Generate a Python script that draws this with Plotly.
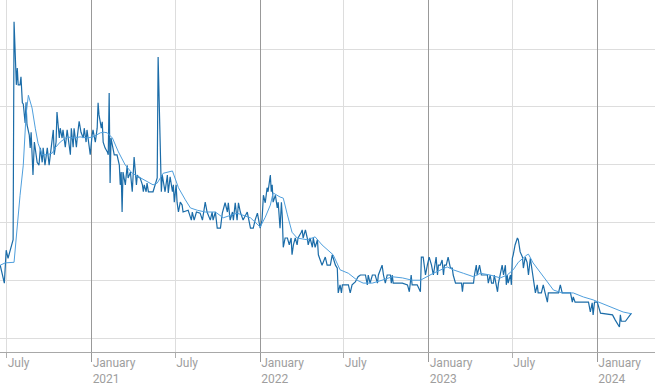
import plotly.graph_objects as go

# ---- data ----
price_dates = [
"2020-06-17","2020-06-26","2020-06-30","2020-07-04","2020-07-15","2020-07-17","2020-07-22","2020-07-24","2020-07-26","2020-07-30",
"2020-08-01","2020-08-04","2020-08-06","2020-08-10","2020-08-12","2020-08-14","2020-08-19","2020-08-21","2020-08-23","2020-08-27",
"2020-08-30","2020-09-03","2020-09-05","2020-09-09","2020-09-12","2020-09-16","2020-09-18","2020-09-22","2020-09-27","2020-10-01",
"2020-10-05","2020-10-10","2020-10-12","2020-10-16","2020-10-18","2020-10-23","2020-10-25","2020-10-29","2020-10-31","2020-11-05",
"2020-11-09","2020-11-11","2020-11-16","2020-11-18","2020-11-22","2020-11-24","2020-11-29","2020-12-01","2020-12-05","2020-12-09",
"2020-12-14","2020-12-16","2020-12-20","2020-12-22","2020-12-27","2020-12-29","2021-01-02","2021-01-04","2021-01-09","2021-01-13",
"2021-01-15","2021-01-17","2021-01-22","2021-01-24","2021-01-26","2021-01-30","2021-02-04","2021-02-06","2021-02-08","2021-02-10",
"2021-02-12","2021-02-15","2021-02-19","2021-02-25","2021-03-02","2021-03-04","2021-03-06","2021-03-08","2021-03-10","2021-03-15",
"2021-03-19","2021-03-21","2021-03-26","2021-03-30","2021-04-01","2021-04-03","2021-04-08","2021-04-10","2021-04-12","2021-04-16",
"2021-04-21","2021-04-23","2021-04-25","2021-04-29","2021-05-01","2021-05-04","2021-05-14","2021-05-23","2021-05-25","2021-05-30",
"2021-06-01","2021-06-03","2021-06-07","2021-06-09","2021-06-14","2021-06-16","2021-06-20","2021-06-25","2021-06-27","2021-06-29",
"2021-07-03","2021-07-05","2021-07-08","2021-07-12","2021-07-16","2021-07-18","2021-07-29","2021-08-05","2021-08-07","2021-08-11",
"2021-08-16","2021-08-24","2021-08-29","2021-08-31","2021-09-04","2021-09-08","2021-09-15","2021-09-19","2021-09-21","2021-09-26",
"2021-09-30","2021-10-07","2021-10-11","2021-10-17","2021-10-22","2021-10-24","2021-10-28","2021-11-02","2021-11-04","2021-11-08",
"2021-11-12","2021-11-15","2021-11-19","2021-11-25","2021-12-04","2021-12-11","2021-12-17","2021-12-21","2021-12-26","2022-01-01",
"2022-01-05","2022-01-08","2022-01-12","2022-01-16","2022-01-18","2022-01-23","2022-01-25","2022-01-27","2022-01-29","2022-02-03",
"2022-02-07","2022-02-09","2022-02-13","2022-02-16","2022-02-18","2022-02-20","2022-02-24","2022-03-01","2022-03-05","2022-03-09",
"2022-03-11","2022-03-14","2022-03-18","2022-03-22","2022-03-24","2022-03-31","2022-04-02","2022-04-04","2022-04-09","2022-04-13",
"2022-04-15","2022-04-19","2022-04-24","2022-04-26","2022-04-30","2022-05-05","2022-05-07","2022-05-15","2022-05-22","2022-05-26",
"2022-06-02","2022-06-06","2022-06-13","2022-06-17","2022-06-19","2022-06-23","2022-06-26","2022-06-28","2022-07-11","2022-07-15",
"2022-07-19","2022-07-26","2022-08-01","2022-08-06","2022-08-17","2022-08-21","2022-08-23","2022-08-27","2022-09-01","2022-09-07",
"2022-09-12","2022-09-14","2022-09-22","2022-09-25","2022-09-29","2022-10-03","2022-10-10","2022-10-12","2022-10-14","2022-10-16",
"2022-11-05","2022-11-16","2022-11-20","2022-11-24","2022-11-26","2022-12-07","2022-12-14","2022-12-16","2022-12-20","2022-12-25",
"2022-12-27","2022-12-29","2023-01-02","2023-01-07","2023-01-11","2023-01-15","2023-01-17","2023-01-20","2023-01-22","2023-01-26",
"2023-01-30","2023-02-02","2023-02-04","2023-02-08","2023-02-12","2023-02-17","2023-02-21","2023-02-23","2023-02-28","2023-03-13",
"2023-03-15","2023-03-17","2023-04-08","2023-04-10","2023-04-14","2023-04-16","2023-04-21","2023-04-25","2023-05-08","2023-05-10",
"2023-05-14","2023-05-17","2023-05-21","2023-05-23","2023-05-27","2023-05-30","2023-06-01","2023-06-05","2023-06-09","2023-06-12",
"2023-06-16","2023-06-18","2023-06-20","2023-06-22","2023-06-27","2023-06-29","2023-07-01","2023-07-03","2023-07-07","2023-07-12",
"2023-07-14","2023-07-18","2023-07-23","2023-07-25","2023-07-29","2023-08-02","2023-08-05","2023-08-09","2023-08-15","2023-08-20",
"2023-08-24","2023-08-26","2023-09-02","2023-09-06","2023-09-10","2023-09-15","2023-09-17","2023-10-09","2023-10-13","2023-10-17",
"2023-11-04","2023-11-08","2023-11-10","2023-11-14","2023-12-13","2023-12-17","2023-12-21","2023-12-23","2023-12-26","2024-01-01",
"2024-01-08","2024-02-03","2024-02-09","2024-02-18","2024-02-20","2024-02-22","2024-03-02","2024-03-15",
]
price_values = [
12.6,9.5,15.2,13.8,17.0,54.7,43.8,46.7,43.8,43.8,
45.2,40.7,40.5,37.2,40.8,36.9,35.1,32.9,35.6,28.2,
33.9,31.7,30.4,29.9,32.9,30.4,32.9,29.9,32.9,29.9,
32.9,36.0,31.7,33.9,39.1,34.6,36.3,34.6,36.0,33.0,
36.0,34.8,31.7,36.3,33.0,36.3,33.0,34.8,37.5,35.6,
34.6,36.3,33.9,36.0,33.0,31.7,35.1,36.0,33.9,36.3,
40.7,38.6,36.3,37.4,33.9,32.9,32.2,31.7,42.4,26.8,
34.6,33.4,31.7,31.7,29.9,26.5,28.7,21.8,28.7,26.5,
29.9,27.7,28.7,25.3,29.4,31.3,26.5,28.2,27.9,27.7,
26.5,25.3,26.5,25.3,26.8,25.3,25.3,27.7,48.6,28.2,
25.3,28.2,26.5,25.3,28.2,25.1,27.9,25.3,26.5,23.5,
26.5,23.5,21.8,23.5,23.0,21.8,22.1,20.4,21.8,20.4,
21.8,21.6,20.4,21.8,23.5,21.8,20.4,21.8,20.4,21.8,
19.0,19.0,21.6,23.4,21.8,23.4,20.4,21.8,20.4,23.4,
20.4,23.4,21.8,20.4,21.8,19.0,19.0,20.4,21.6,19.0,
20.4,24.7,23.4,26.0,25.3,28.2,25.3,26.5,23.5,24.7,
22.5,23.5,19.0,23.5,20.8,15.7,17.3,17.3,16.1,17.3,
14.4,16.1,17.3,16.1,17.3,18.3,18.7,17.3,18.7,17.3,
16.1,17.3,15.7,17.3,15.7,17.0,14.4,12.6,14.0,12.6,
12.6,14.4,12.6,12.1,7.8,9.2,7.8,9.2,9.2,7.8,
9.2,9.7,10.6,10.9,10.9,9.2,10.9,9.5,10.9,10.9,
9.5,10.9,12.6,10.9,9.5,10.9,10.9,9.5,10.9,9.5,
9.5,9.2,8.0,10.9,9.2,9.2,8.0,14.0,14.0,10.9,
12.1,12.6,14.0,12.6,10.9,12.6,14.0,10.9,12.6,12.6,
13.5,10.9,12.6,12.6,14.0,12.1,12.1,10.9,9.5,9.5,
8.0,9.5,9.5,10.9,12.6,10.9,12.6,10.9,10.9,9.5,
10.9,9.5,9.5,10.9,9.5,8.0,9.5,10.9,12.6,10.9,
12.6,9.2,10.9,9.5,10.9,9.2,13.8,14.4,16.1,17.3,
17.0,14.9,14.0,12.1,14.0,13.1,10.9,13.8,10.9,7.8,
9.2,7.8,7.8,9.2,7.8,6.2,7.8,7.8,9.2,7.8,
7.8,6.2,7.1,6.2,6.2,4.5,6.1,4.0,6.2,6.2,
4.3,4.0,3.1,1.9,4.0,2.9,2.9,4.3,
]

avg_dates = [
"2020-06-17","2020-06-28","2020-07-17","2020-07-24","2020-07-30","2020-08-06","2020-08-08","2020-08-12","2020-08-17","2020-08-25",
"2020-09-01","2020-09-07","2020-09-16","2020-09-27","2020-10-08","2020-10-14","2020-10-25","2020-11-09","2020-11-22","2020-12-07",
"2020-12-22","2021-01-04","2021-01-20","2021-01-28","2021-02-04","2021-02-15","2021-02-28","2021-03-15","2021-03-30","2021-04-12",
"2021-04-27","2021-05-14","2021-05-23","2021-06-05","2021-06-25","2021-07-08","2021-07-23","2021-08-03","2021-08-18","2021-09-04",
"2021-09-26","2021-10-13","2021-11-12","2021-12-11","2022-01-01","2022-01-12","2022-01-23","2022-01-29","2022-02-13","2022-02-20",
"2022-03-01","2022-03-11","2022-03-22","2022-04-13","2022-04-30","2022-05-15","2022-06-08","2022-06-23","2022-07-11","2022-07-30",
"2022-08-12","2022-09-01","2022-09-22","2022-10-14","2022-11-05","2022-11-26","2022-12-14","2023-01-11","2023-02-10","2023-02-23",
"2023-03-17","2023-04-08","2023-04-23","2023-05-14","2023-06-05","2023-06-20","2023-07-03","2023-07-14","2023-08-02","2023-08-05",
"2023-08-15","2023-08-31","2023-09-15","2023-09-28","2023-10-17","2023-11-10","2023-12-02","2023-12-23","2024-01-08","2024-02-05",
"2024-02-26","2024-03-15",
]
avg_values = [
12.6,13.0,13.1,20.1,24.7,29.9,33.9,38.6,42.0,39.8,
36.3,33.7,31.7,31.7,32.0,32.9,33.9,34.8,34.6,34.8,
34.6,34.8,35.5,35.6,35.5,34.6,32.2,29.9,28.5,27.9,
27.3,26.5,26.8,28.5,28.9,26.0,23.9,22.5,22.1,21.8,
21.8,20.8,21.6,20.8,19.2,20.9,23.0,25.1,24.4,24.2,
21.3,18.3,17.3,17.0,17.5,16.1,14.4,11.8,11.2,10.0,
9.5,9.5,10.0,10.6,10.4,10.0,10.0,11.2,12.3,11.8,
11.2,10.6,11.2,10.9,10.4,10.9,11.8,13.1,14.4,14.5,
13.0,11.2,9.7,8.3,7.8,7.8,7.1,6.6,6.1,5.2,
4.5,4.2,
]

tick_dates = ["2020-07-01","2021-01-01","2021-07-01","2022-01-01","2022-07-01",
              "2023-01-01","2023-07-01","2024-01-01"]
tick_labels = ["July","January<br>2021","July","January<br>2022","July",
               "January<br>2023","July","January<br>2024"]
year_ticks = ["2021-01-01","2022-01-01","2023-01-01","2024-01-01"]

x_range = ["2020-06-16 14:00", "2024-05-05"]
y_range = [-2.42, 58.48]

# ---- figure ----
fig = go.Figure()
fig.add_trace(go.Scatter(x=avg_dates, y=avg_values, mode="lines", xaxis="x2",
                         line=dict(color="#4f9fdd", width=1), hoverinfo="skip",
                         showlegend=False))
fig.add_trace(go.Scatter(x=price_dates, y=price_values, mode="lines",
                         line=dict(color="#1b6ca8", width=1.2),
                         showlegend=False))

fig.update_layout(
    width=655, height=388,
    margin=dict(l=0, r=0, t=0, b=36),
    paper_bgcolor="white", plot_bgcolor="white",
    font=dict(family="Roboto", size=12, color="#9e9e9e"),
    xaxis=dict(
        type="date", range=x_range,
        tickvals=tick_dates, ticktext=tick_labels,
        ticklabelposition="outside right",
        showgrid=True, gridcolor="#dddddd", gridwidth=1,
        ticks="outside", ticklen=5, tickcolor="#b0b0b0",
        showline=True, linecolor="#a8a8a8", linewidth=1,
        tickfont=dict(family="Roboto", size=12, color="#9e9e9e"),
        zeroline=False,
    ),
    xaxis2=dict(
        type="date", range=x_range, overlaying="x", matches="x", side="bottom",
        anchor="y",
        tickvals=year_ticks, showticklabels=False,
        showgrid=True, gridcolor="#999999", gridwidth=1,
        ticks="outside", ticklen=9, tickcolor="#999999",
        showline=False, zeroline=False,
    ),
    yaxis=dict(
        range=y_range, dtick=10, tick0=0,
        showgrid=True, gridcolor="#dddddd", gridwidth=1,
        showticklabels=False, zeroline=False, showline=False, ticks="",
    ),
)

fig.write_html("out.html",
               config={"displayModeBar": False},
               post_script="document.body.style.margin='0px';document.body.style.overflow='hidden';")
